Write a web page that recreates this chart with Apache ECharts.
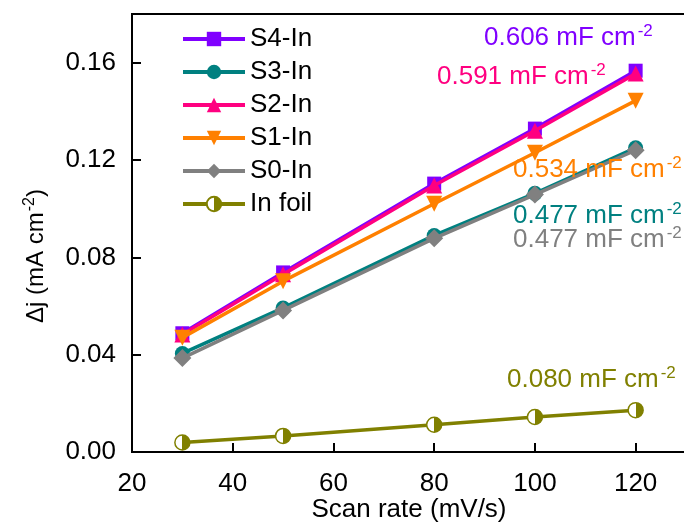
<!DOCTYPE html>
<html>
<head>
<meta charset="utf-8">
<script src="https://cdn.jsdelivr.net/npm/echarts@6/dist/echarts.min.js"></script>
<style>
    html, body { margin: 0; padding: 0; background: #fff; }
    #chart { width: 684px; height: 522px; }
</style>
</head>
<body>
<div id="chart"></div>
<script>
// scan rates (mV/s)
var scanRates = [30, 50, 80, 100, 120];
// delta j (mA cm-2) per sample
var s4In = [0.0488, 0.0738, 0.1103, 0.1329, 0.1567];
var s3In = [0.0405, 0.0592, 0.0890, 0.1063, 0.1250];
var s2In = [0.0483, 0.0730, 0.1095, 0.1320, 0.1555];
var s1In = [0.0470, 0.0702, 0.1020, 0.1230, 0.1444];
var s0In = [0.0386, 0.0582, 0.0878, 0.1058, 0.1240];
var inFoil = [0.0039, 0.0066, 0.0112, 0.0144, 0.0172];
var seriesNames = ['S4-In', 'S3-In', 'S2-In', 'S1-In', 'S0-In', 'In foil'];
var capacitances = ['0.606', '0.477', '0.591', '0.534', '0.477', '0.080'];
var yTicks = [0, 0.04, 0.08, 0.12, 0.16];

var FONT = 'Arial, "Liberation Sans", sans-serif';
var colors = ['#8000ff', '#008080', '#ff0080', '#ff8000', '#808080', '#808000'];

function pairs(ys) {
    return scanRates.map(function (x, i) { return [x, ys[i]]; });
}

var halfCircle = new echarts.graphic.LinearGradient(0, 0, 1, 0, [
    { offset: 0, color: '#ffffff' },
    { offset: 0.5, color: '#ffffff' },
    { offset: 0.5, color: '#808000' },
    { offset: 1, color: '#808000' }
]);

function lineSeries(idx, data, symbol, size, extra) {
    var s = {
        name: seriesNames[idx],
        type: 'line',
        data: pairs(data),
        symbol: symbol,
        symbolSize: size,
        showAllSymbol: true,
        lineStyle: { color: colors[idx], width: 3.5 },
        itemStyle: { color: colors[idx] },
        z: 2 + idx
    };
    for (var k in extra) s[k] = extra[k];
    return s;
}

// annotation text: [label idx, left x, center y]
var notes = [
    [0, 484, 38],
    [2, 437, 77],
    [3, 513, 170],
    [1, 513, 216],
    [4, 513, 240],
    [5, 507, 380]
];

function noteText(i, x, y) {
    return {
        type: 'text',
        x: x,
        y: y,
        z: 100,
        style: {
            text: '{a|' + capacitances[i] + ' mF cm}{b|-2}',
            fill: colors[i],
            verticalAlign: 'middle',
            rich: {
                a: { fontSize: 26, fontFamily: FONT, color: colors[i], lineHeight: 30 },
                b: { fontSize: 17, fontFamily: FONT, color: colors[i], verticalAlign: 'top', lineHeight: 30, padding: [0, 0, 12, 2] }
            }
        }
    };
}

var chart = echarts.init(document.getElementById('chart'));
var option = {
    animation: false,
    grid: {
        left: 132, top: 14, right: -2, bottom: 70,
        outerBoundsMode: 'none',
        show: true, borderColor: '#000', borderWidth: 2
    },
    legend: {
        orient: 'vertical',
        left: 176,
        top: 21,
        itemWidth: 62,
        itemHeight: 18,
        itemGap: 7,
        data: seriesNames,
        lineStyle: { width: 4 },
        textStyle: { fontSize: 26, fontFamily: FONT, color: '#000', lineHeight: 26 }
    },
    xAxis: {
        type: 'value',
        min: 20, max: 130, interval: 20,
        splitLine: { show: false },
        axisLine: { onZero: false, lineStyle: { color: '#000', width: 2 } },
        axisTick: { inside: true, length: 9, lineStyle: { color: '#000', width: 2 } },
        axisLabel: { showMaxLabel: false, fontSize: 26, fontFamily: FONT, color: '#000', margin: 19 },
        name: 'Scan rate (mV/s)',
        nameLocation: 'middle',
        nameGap: 45,
        nameMoveOverlap: false,
        nameTextStyle: { fontSize: 26, fontFamily: FONT, color: '#000' }
    },
    yAxis: {
        type: 'value',
        min: 0, max: 0.18, interval: 0.04,
        splitLine: { show: false },
        axisLine: { lineStyle: { color: '#000', width: 2 } },
        axisTick: { inside: true, length: 9, lineStyle: { color: '#000', width: 2 } },
        axisLabel: {
            showMaxLabel: false, fontSize: 26, fontFamily: FONT, color: '#000', margin: 16,
            formatter: function (v) { return yTicks.indexOf(+v.toFixed(2)) >= 0 ? v.toFixed(2) : ''; }
        }
    },
    graphic: notes.map(function (n) { return noteText(n[0], n[1], n[2]); }).concat([{
        type: 'text',
        x: 36,
        y: 256,
        rotation: Math.PI / 2,
        style: {
            text: '{a|Δj (mA cm}{b|-2}{a|)}',
            align: 'center',
            verticalAlign: 'middle',
            rich: {
                a: { fontSize: 24, fontFamily: FONT, color: '#000', lineHeight: 28 },
                b: { fontSize: 16, fontFamily: FONT, color: '#000', verticalAlign: 'top', lineHeight: 28, padding: [0, 0, 12, 1] }
            }
        }
    }]),
    series: [
        lineSeries(0, s4In, 'rect', 14, {}),
        lineSeries(1, s3In, 'circle', 15, {}),
        lineSeries(2, s2In, 'triangle', 16, {}),
        lineSeries(3, s1In, 'triangle', 16, { symbolRotate: 180 }),
        lineSeries(4, s0In, 'diamond', 18, {}),
        lineSeries(5, inFoil, 'circle', 15, {
            itemStyle: { color: halfCircle, borderColor: '#808000', borderWidth: 1.5 }
        })
    ]
};
chart.setOption(option);
window.addEventListener('resize', function () {
    chart.resize();
});
</script>
</body>
</html>
